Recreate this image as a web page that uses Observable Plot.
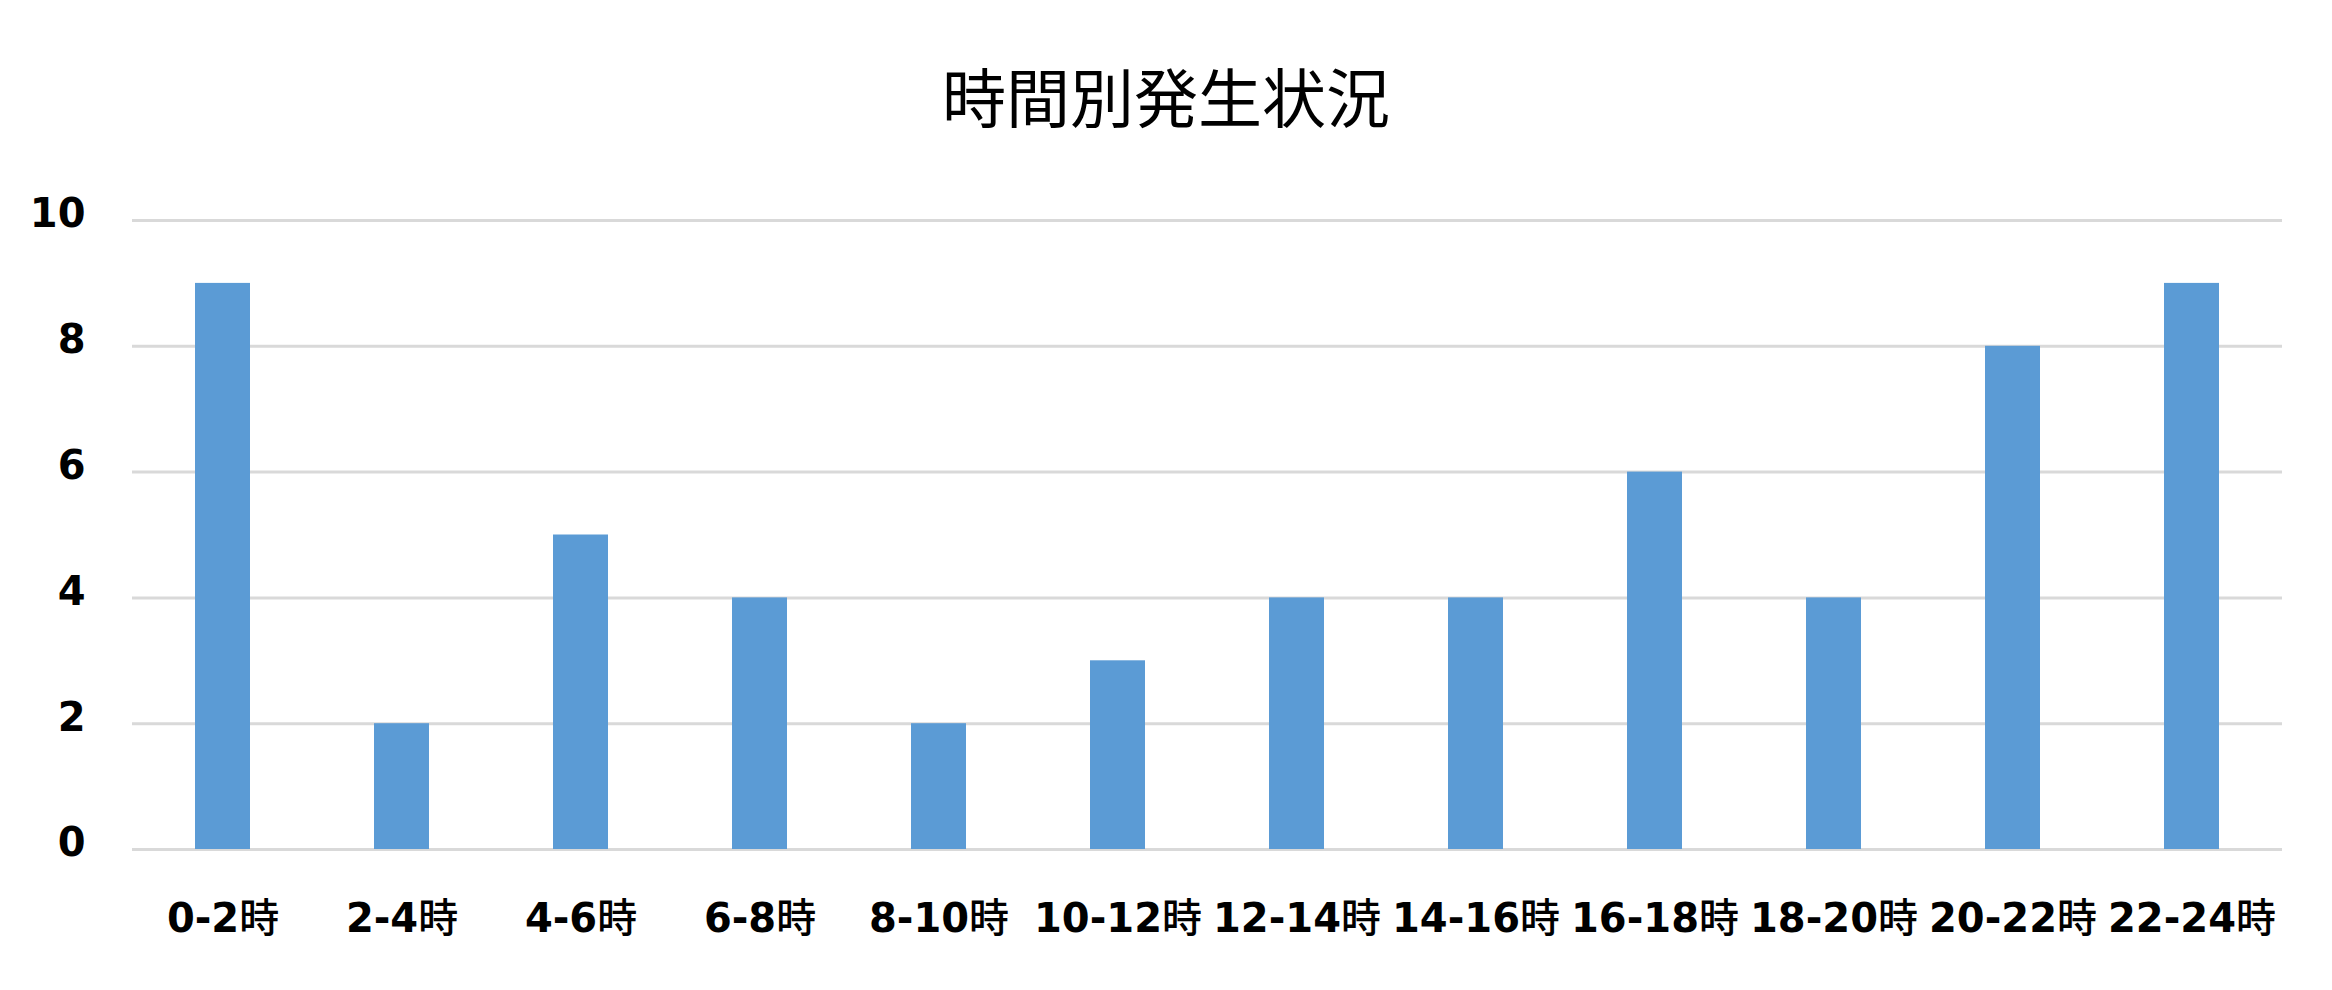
<!DOCTYPE html>
<html>
<head>
<meta charset="utf-8">
<script src="https://cdn.jsdelivr.net/npm/d3@7"></script>
<script src="https://cdn.jsdelivr.net/npm/@observablehq/plot@0.6"></script>
<style>
  html, body { margin: 0; padding: 0; background: #fff; }
  #title { height: 170px; width: 2332px; display: flex; align-items: center; justify-content: center;
           font-family: "Noto Sans CJK JP", sans-serif; font-size: 64px; font-weight: 400; color: #000;
           box-sizing: border-box; padding-top: 18px; }
  #chart svg { display: block; }
</style>
</head>
<body>
<div id="title">時間別発生状況</div>
<div id="chart"></div>
<script>
const categories = ["0-2時","2-4時","4-6時","6-8時","8-10時","10-12時","12-14時","14-16時","16-18時","18-20時","20-22時","22-24時"];
const counts = [9, 2, 5, 4, 2, 3, 4, 4, 6, 4, 8, 9];
const yTicks = [0, 2, 4, 6, 8, 10];

const data = categories.map((c, i) => ({ category: c, count: counts[i] }));

const chart = Plot.plot({
  width: 2332,
  height: 820,
  marginTop: 50,
  marginBottom: 141,
  marginLeft: 132,
  marginRight: 50,
  style: { fontFamily: "'DejaVu Sans', 'Noto Sans CJK JP', sans-serif", fontSize: "40px", fontWeight: "bold", color: "#000", background: "#fff" },
  x: { domain: categories, paddingInner: 0.69, paddingOuter: 0.345, label: null },
  y: { domain: [0, 10], label: null },
  marks: [
    Plot.ruleY(yTicks, { stroke: "#d9d9d9", strokeWidth: 3, strokeOpacity: 1 }),
    Plot.barY(data, { x: "category", y: "count", fill: "#5b9bd5" }),
    Plot.axisY({ ticks: yTicks, tickSize: 0, tickPadding: 47, fontSize: 40, fontWeight: "bold", dy: -6 }),
    Plot.axisX({ tickSize: 0, tickPadding: 54, fontSize: 40, fontWeight: "bold" })
  ]
});

// render 時 in a lighter weight like the reference
d3.select(chart).selectAll("g[aria-label='x-axis tick label'] text").each(function() {
  const t = d3.select(this);
  const s = t.text();
  if (s.endsWith("時")) {
    t.text(null);
    t.append("tspan").text(s.slice(0, -1));
    t.append("tspan").attr("font-weight", "500").attr("font-family", "'Noto Sans CJK JP', sans-serif").text("時");
  }
});

document.getElementById("chart").append(chart);
</script>
</body>
</html>
